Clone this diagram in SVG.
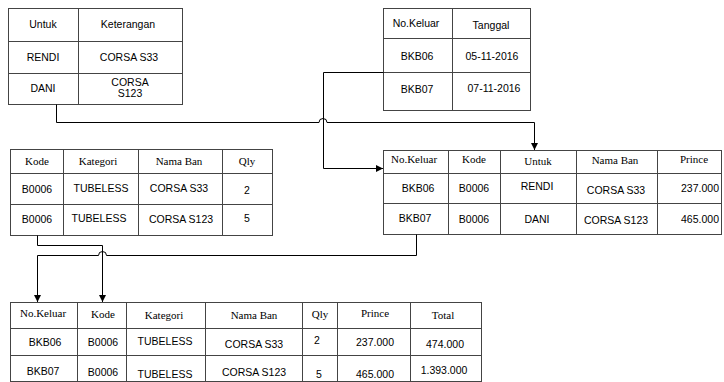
<svg xmlns="http://www.w3.org/2000/svg" width="724" height="382" viewBox="0 0 724 382">
<defs>
<style>
.cell{fill:#fff;stroke:#444;stroke-width:1}
.ln{stroke:#444;stroke-width:1;fill:none}
.s{font-family:"Liberation Sans",Arial,sans-serif;font-size:10.5px;fill:#000;text-anchor:middle}
.t{font-family:"Liberation Serif","Times New Roman",serif;font-size:11px;fill:#000;text-anchor:middle}
.con{stroke:#000;stroke-width:1;fill:none}
</style>
<marker id="ah" viewBox="0 0 8 8" refX="8" refY="4" markerWidth="7" markerHeight="7" markerUnits="userSpaceOnUse" orient="auto">
<path d="M0,0 L8,4 L0,8 z" fill="#000"/>
</marker>
</defs>
<rect width="724" height="382" fill="#fff"/>

<g id="tabel-untuk">
<rect class="cell" x="8.5" y="8.5" width="174" height="96"/>
<path class="ln" d="M78.5,8.5 V104.5 M8.5,41.5 H182.5 M8.5,73.5 H182.5"/>
<text class="s" x="43" y="28">Untuk</text>
<text class="s" x="128" y="28">Keterangan</text>
<text class="s" x="43" y="61">RENDI</text>
<text class="s" x="129" y="61">CORSA S33</text>
<text class="s" x="43" y="92">DANI</text>
<text class="s" x="130" y="86">CORSA</text>
<text class="s" x="130" y="97">S123</text>
</g>

<g id="tabel-keluar">
<rect class="cell" x="383.5" y="8.5" width="147" height="102"/>
<path class="ln" d="M452.5,8.5 V110.5 M383.5,38.5 H530.5 M383.5,72.5 H530.5"/>
<text class="s" x="416" y="27">No.Keluar</text>
<text class="s" x="491" y="29">Tanggal</text>
<text class="s" x="417" y="60">BKB06</text>
<text class="s" x="492" y="60">05-11-2016</text>
<text class="s" x="417" y="93">BKB07</text>
<text class="s" x="494" y="92">07-11-2016</text>
</g>

<g id="tabel-ban">
<rect class="cell" x="10.5" y="149.5" width="262" height="86"/>
<path class="ln" d="M63.5,149.5 V235.5 M138.5,149.5 V235.5 M222.5,149.5 V235.5 M10.5,173.5 H272.5 M10.5,204.5 H272.5"/>
<text class="t" x="37" y="165">Kode</text>
<text class="t" x="98" y="165">Kategori</text>
<text class="t" x="179" y="165">Nama Ban</text>
<text class="t" x="247" y="165">Qly</text>
<text class="s" x="37" y="193">B0006</text>
<text class="s" x="101" y="192">TUBELESS</text>
<text class="s" x="179" y="192">CORSA S33</text>
<text class="s" x="247" y="194">2</text>
<text class="s" x="37" y="223">B0006</text>
<text class="s" x="99" y="222">TUBELESS</text>
<text class="s" x="181" y="223">CORSA S123</text>
<text class="s" x="247" y="222">5</text>
</g>

<g id="tabel-detail">
<rect class="cell" x="383.5" y="150.5" width="338" height="84"/>
<path class="ln" d="M448.5,150.5 V234.5 M500.5,150.5 V234.5 M576.5,150.5 V234.5 M657.5,150.5 V234.5 M383.5,173.5 H721.5 M383.5,203.5 H721.5"/>
<text class="t" x="414" y="163">No.Keluar</text>
<text class="t" x="474" y="163">Kode</text>
<text class="t" x="538" y="165">Untuk</text>
<text class="t" x="615" y="164">Nama Ban</text>
<text class="t" x="694" y="163">Prince</text>
<text class="s" x="418" y="192">BKB06</text>
<text class="s" x="474" y="192">B0006</text>
<text class="s" x="537" y="190">RENDI</text>
<text class="s" x="616" y="194">CORSA S33</text>
<text class="s" x="700" y="192">237.000</text>
<text class="s" x="415" y="222">BKB07</text>
<text class="s" x="474" y="223">B0006</text>
<text class="s" x="537" y="223">DANI</text>
<text class="s" x="616" y="224">CORSA S123</text>
<text class="s" x="700" y="223">465.000</text>
</g>

<g id="tabel-hasil">
<rect class="cell" x="10.5" y="302.5" width="471" height="79"/>
<path class="ln" d="M77.5,302.5 V381.5 M126.5,302.5 V381.5 M205.5,302.5 V381.5 M302.5,302.5 V381.5 M337.5,302.5 V381.5 M410.5,302.5 V381.5 M10.5,328.5 H481.5 M10.5,355.5 H481.5"/>
<text class="t" x="43" y="317">No.Keluar</text>
<text class="t" x="103" y="318">Kode</text>
<text class="t" x="164" y="319">Kategori</text>
<text class="t" x="254" y="319">Nama Ban</text>
<text class="t" x="320" y="318">Qly</text>
<text class="t" x="375" y="317">Prince</text>
<text class="t" x="443" y="319">Total</text>
<text class="s" x="45" y="346">BKB06</text>
<text class="s" x="103" y="346">B0006</text>
<text class="s" x="165" y="345">TUBELESS</text>
<text class="s" x="254" y="348">CORSA S33</text>
<text class="s" x="317" y="344">2</text>
<text class="s" x="375" y="346">237.000</text>
<text class="s" x="445" y="348">474.000</text>
<text class="s" x="43" y="375">BKB07</text>
<text class="s" x="103" y="376">B0006</text>
<text class="s" x="165" y="378">TUBELESS</text>
<text class="s" x="254" y="376">CORSA S123</text>
<text class="s" x="319" y="378">5</text>
<text class="s" x="375" y="378">465.000</text>
<text class="s" x="444" y="374">1.393.000</text>
</g>

<g id="connectors">
<path class="con" d="M56.5,104.5 V122.5 H319 A4,4 0 0 1 327,122.5 H534.5 V150" marker-end="url(#ah)"/>
<path class="con" d="M383.5,72.5 H323.5 V168.5 H383" marker-end="url(#ah)"/>
<path class="con" d="M37.5,235.5 V245.5 H102.5 V302" marker-end="url(#ah)"/>
<path class="con" d="M416.5,234.5 V255.5 H106.5 A4,4 0 0 0 98.5,255.5 H37.5 V302" marker-end="url(#ah)"/>
</g>
</svg>
